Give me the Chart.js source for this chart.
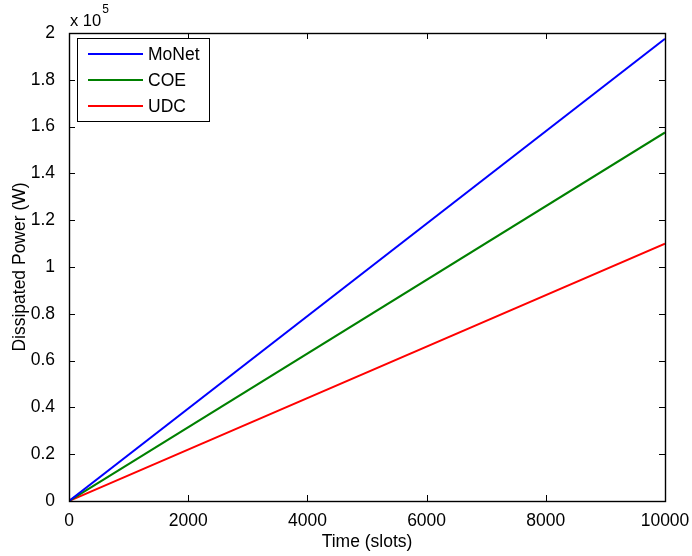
<!DOCTYPE html>
<html>
<head>
<meta charset="utf-8">
<script src="https://cdn.jsdelivr.net/npm/chart.js@4/dist/chart.umd.min.js"></script>
<style>
  html, body { margin: 0; padding: 0; background: #fff; }
  #wrap { width: 692px; height: 556px; position: relative; }
</style>
</head>
<body>
<div id="wrap"><canvas id="c" width="692" height="556"></canvas></div>
<script>
// Time samples (slots) and cumulative dissipated power (W) per scheme
const timeSlots = [0, 10000];
const monetPower = [0, 197500];
const coePower = [0, 157500];
const udcPower = [0, 110000];
const seriesNames = ['MoNet', 'COE', 'UDC'];
const xTicks = [0, 2000, 4000, 6000, 8000, 10000];
const yTicks = [0, 20000, 40000, 60000, 80000, 100000, 120000, 140000, 160000, 180000, 200000];
const yExponent = 5;

const FONT = 'Liberation Sans, Arial, Helvetica, sans-serif';
const FS = 17.5;

function toPoints(ys) { return timeSlots.map((t, i) => ({ x: t, y: ys[i] })); }

// Box frame, inward ticks on all four sides, exponent label and legend
const matlabAxes = {
  id: 'matlabAxes',
  afterDraw(chart) {
    const { ctx, chartArea: a, scales } = chart;
    const xs = scales.x, ys = scales.y;
    const tl = 6;
    ctx.save();
    ctx.strokeStyle = '#000';
    ctx.lineWidth = 1;
    ctx.beginPath();
    xTicks.forEach(v => {
      const px = Math.round(xs.getPixelForValue(v)) + 0.5;
      ctx.moveTo(px, a.bottom); ctx.lineTo(px, a.bottom - tl);
      ctx.moveTo(px, a.top); ctx.lineTo(px, a.top + tl);
    });
    yTicks.forEach(v => {
      const py = Math.round(ys.getPixelForValue(v)) + 0.5;
      ctx.moveTo(a.left, py); ctx.lineTo(a.left + tl, py);
      ctx.moveTo(a.right, py); ctx.lineTo(a.right - tl, py);
    });
    ctx.stroke();
    ctx.lineWidth = 1.4;
    ctx.strokeRect(Math.round(a.left) + 0.5, Math.round(a.top) + 0.5,
                   Math.round(a.right - a.left), Math.round(a.bottom - a.top));

    // exponent label
    ctx.fillStyle = '#000';
    ctx.textBaseline = 'alphabetic';
    ctx.textAlign = 'left';
    ctx.font = '16.5px ' + FONT;
    ctx.fillText('x 10', a.left + 1, a.top - 7);
    const w = ctx.measureText('x 10').width;
    ctx.font = '12px ' + FONT;
    ctx.fillText(String(yExponent), a.left + 2 + w, a.top - 20);

    // legend
    const lx = 77, ly = 38, lw = 132, lh = 83;
    ctx.fillStyle = '#fff';
    ctx.fillRect(lx, ly, lw, lh);
    ctx.lineWidth = 1;
    ctx.strokeStyle = '#000';
    ctx.strokeRect(lx + 0.5, ly + 0.5, lw, lh);
    ctx.font = FS + 'px ' + FONT;
    ctx.textBaseline = 'middle';
    chart.data.datasets.forEach((ds, i) => {
      const ry = 54 + i * 26;
      ctx.strokeStyle = ds.borderColor;
      ctx.lineWidth = 2;
      ctx.beginPath();
      ctx.moveTo(88, ry); ctx.lineTo(143, ry);
      ctx.stroke();
      ctx.fillStyle = '#000';
      ctx.fillText(ds.label, 148, ry + 1);
    });
    ctx.restore();
  }
};

new Chart(document.getElementById('c'), {
  type: 'line',
  data: {
    datasets: [
      { label: seriesNames[0], data: toPoints(monetPower), borderColor: '#0000ff' },
      { label: seriesNames[1], data: toPoints(coePower), borderColor: '#008000' },
      { label: seriesNames[2], data: toPoints(udcPower), borderColor: '#ff0000' }
    ].map(d => Object.assign(d, { borderWidth: 2, pointRadius: 0, fill: false, tension: 0 }))
  },
  options: {
    responsive: false,
    animation: false,
    layout: { padding: { top: 33, right: 27, left: 0, bottom: 0 } },
    plugins: { legend: { display: false }, tooltip: { enabled: false } },
    scales: {
      x: {
        type: 'linear',
        min: 0, max: 10000,
        afterFit(s) { s.height = 55; },
        afterBuildTicks(s) { s.ticks = xTicks.map(v => ({ value: v })); },
        grid: { display: false },
        border: { display: false },
        ticks: { color: '#000', font: { family: FONT, size: FS }, padding: 2, maxRotation: 0, autoSkip: false,
                 callback: v => String(v) },
        title: { display: true, text: 'Time (slots)', color: '#000', font: { family: FONT, size: FS }, padding: { top: 0, bottom: 3 } }
      },
      y: {
        type: 'linear',
        min: 0, max: 200000,
        afterFit(s) { s.width = 69; },
        afterBuildTicks(s) { s.ticks = yTicks.map(v => ({ value: v })); },
        grid: { display: false },
        border: { display: false },
        ticks: { color: '#000', font: { family: FONT, size: FS }, padding: 6, autoSkip: false,
                 callback: v => String(+(v / Math.pow(10, yExponent)).toFixed(1)) },
        title: { display: true, text: 'Dissipated Power (W)', color: '#000', font: { family: FONT, size: FS }, padding: { top: 10, bottom: 0 } }
      }
    }
  },
  plugins: [matlabAxes]
});
</script>
</body>
</html>
